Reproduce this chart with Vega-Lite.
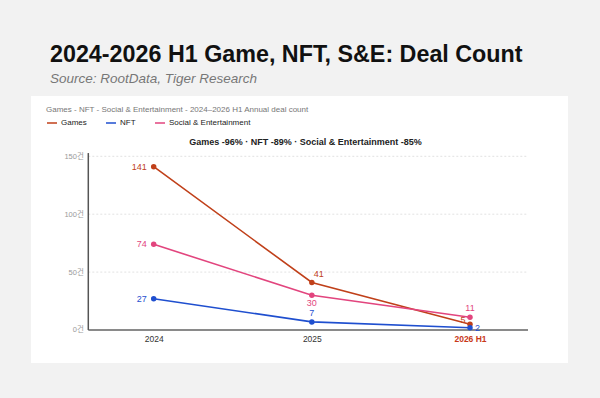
{
  "$schema": "https://vega.github.io/schema/vega-lite/v6.json",
  "width": 537,
  "height": 267,
  "autosize": {"type": "none"},
  "padding": {"left": 31, "top": 96, "right": 32, "bottom": 35},
  "background": "#f2f2f2",
  "view": {"fill": "#ffffff", "stroke": null},
  "config": {"font": "Liberation Sans, Noto Sans CJK KR"},
  "title": {
    "text": "2024-2026 H1 Game, NFT, S&E: Deal Count",
    "subtitle": "Source: RootData, Tiger Research",
    "anchor": "start",
    "frame": "group",
    "dx": 19,
    "offset": 10,
    "fontSize": 23.3,
    "fontWeight": "bold",
    "color": "#111111",
    "subtitleFontSize": 13.5,
    "subtitleFontStyle": "italic",
    "subtitleColor": "#777777",
    "subtitlePadding": 4
  },
  "resolve": {"axis": {"x": "independent", "y": "independent"}},
  "datasets": {
    "deals": [
      {"year": 2024, "series": "Games", "count": 141},
      {"year": 2025, "series": "Games", "count": 41},
      {"year": 2026, "series": "Games", "count": 5},
      {"year": 2024, "series": "NFT", "count": 27},
      {"year": 2025, "series": "NFT", "count": 7},
      {"year": 2026, "series": "NFT", "count": 2},
      {"year": 2024, "series": "Social & Entertainment", "count": 74},
      {"year": 2025, "series": "Social & Entertainment", "count": 30},
      {"year": 2026, "series": "Social & Entertainment", "count": 11}
    ],
    "grid": [{"v": 50}, {"v": 100}, {"v": 150}]
  },
  "layer": [
    {
      "data": {"name": "grid"},
      "mark": {"type": "rule", "color": "#e2e2e2", "strokeWidth": 1, "strokeDash": [2, 2]},
      "encoding": {
        "y": {"field": "v", "type": "quantitative", "axis": null,
              "scale": {"domain": [-28.5, 202.07], "nice": false, "zero": false}},
        "x": {"datum": 2023.5865, "type": "quantitative", "axis": null,
              "scale": {"domain": [2023.2242, 2026.6197], "nice": false, "zero": false}},
        "x2": {"datum": 2026.3667}
      }
    },
    {
      "data": {"values": [{}]},
      "mark": {"type": "rule", "color": "#8a8a8a", "strokeWidth": 2},
      "encoding": {
        "y": {"datum": 0, "type": "quantitative", "axis": null},
        "x": {"datum": 2023.5865, "type": "quantitative", "axis": null},
        "x2": {"datum": 2026.3667}
      }
    },
    {
      "data": {"values": [{}]},
      "mark": {"type": "rule", "color": "#555555", "strokeWidth": 1.5},
      "encoding": {
        "x": {"datum": 2023.5865, "type": "quantitative", "axis": null},
        "y": {"datum": 0, "type": "quantitative", "axis": null},
        "y2": {"datum": 152.8}
      }
    },
    {
      "data": {"name": "deals"},
      "mark": {"type": "line", "strokeWidth": 1.6},
      "encoding": {
        "x": {
          "field": "year", "type": "quantitative",
          "scale": {"domain": [2023.2242, 2026.6197], "nice": false, "zero": false},
          "axis": {
            "values": [2024, 2025, 2026],
            "labelExpr": "datum.value == 2026 ? '2026 H1' : '' + datum.value",
            "domain": false, "ticks": false, "grid": false,
            "offset": -33, "labelPadding": 4,
            "labelFontSize": 8.5, "labelOverlap": false, "labelBound": false, "labelFlush": false,
            "labelColor": {"condition": {"test": "datum.value == 2026", "value": "#c8391a"}, "value": "#333333"},
            "labelFontWeight": {"condition": {"test": "datum.value == 2026", "value": "bold"}, "value": "normal"},
            "title": "Games -96% · NFT -89% · Social & Entertainment -85%",
            "titleX": 274, "titleY": -189,
            "titleAlign": "center", "titleBaseline": "middle", "titleAnchor": null,
            "titleFontSize": 9, "titleFontWeight": "bold", "titleColor": "#222222"
          }
        },
        "y": {
          "field": "count", "type": "quantitative",
          "scale": {"domain": [-28.5, 202.07], "nice": false, "zero": false},
          "axis": {
            "values": [0, 50, 100, 150],
            "labelExpr": "datum.value + '건'",
            "domain": false, "ticks": false, "grid": false,
            "offset": -57.3, "labelPadding": 5,
            "labelFontSize": 7.5, "labelColor": "#9a9a9a",
            "title": null
          }
        },
        "color": {
          "field": "series", "type": "nominal",
          "scale": {
            "domain": ["Games", "NFT", "Social & Entertainment"],
            "range": ["#c0401a", "#1f4fcf", "#e2457e"]
          },
          "legend": {
            "orient": "none", "legendX": 15, "legendY": 10,
            "direction": "horizontal",
            "title": "Games - NFT - Social & Entertainment - 2024–2026 H1 Annual deal count",
            "titleFontSize": 8, "titleFontWeight": "normal", "titleColor": "#777777",
            "titlePadding": 3, "titleLimit": 500,
            "symbolType": "stroke", "symbolSize": 100, "symbolStrokeWidth": 1.5,
            "labelFontSize": 8, "labelColor": "#222222", "labelOffset": 3,
            "columnPadding": 16
          }
        }
      }
    },
    {
      "data": {"name": "deals"},
      "mark": {"type": "point", "filled": true, "size": 30, "opacity": 1},
      "encoding": {
        "x": {"field": "year", "type": "quantitative", "axis": null},
        "y": {"field": "count", "type": "quantitative", "axis": null},
        "color": {"field": "series", "type": "nominal"}
      }
    },
    {
      "data": {"name": "deals"},
      "transform": [{"filter": "datum.year == 2024"}],
      "mark": {"type": "text", "align": "right", "baseline": "middle", "dx": -7, "fontSize": 9},
      "encoding": {
        "x": {"field": "year", "type": "quantitative", "axis": null},
        "y": {"field": "count", "type": "quantitative", "axis": null},
        "text": {"field": "count", "type": "quantitative"},
        "color": {"field": "series", "type": "nominal"}
      }
    },
    {
      "data": {"name": "deals"},
      "transform": [{"filter": "datum.year == 2025 && datum.series == 'Games'"}],
      "mark": {"type": "text", "align": "center", "baseline": "middle", "dx": 7, "dy": -9, "fontSize": 9},
      "encoding": {
        "x": {"field": "year", "type": "quantitative", "axis": null},
        "y": {"field": "count", "type": "quantitative", "axis": null},
        "text": {"field": "count", "type": "quantitative"},
        "color": {"field": "series", "type": "nominal"}
      }
    },
    {
      "data": {"name": "deals"},
      "transform": [{"filter": "(datum.year == 2025 && datum.series == 'NFT') || (datum.year == 2026 && datum.series == 'Social & Entertainment')"}],
      "mark": {"type": "text", "align": "center", "baseline": "middle", "dy": -9, "fontSize": 9},
      "encoding": {
        "x": {"field": "year", "type": "quantitative", "axis": null},
        "y": {"field": "count", "type": "quantitative", "axis": null},
        "text": {"field": "count", "type": "quantitative"},
        "color": {"field": "series", "type": "nominal"}
      }
    },
    {
      "data": {"name": "deals"},
      "transform": [{"filter": "datum.year == 2025 && datum.series == 'Social & Entertainment'"}],
      "mark": {"type": "text", "align": "center", "baseline": "middle", "dy": 8, "fontSize": 9},
      "encoding": {
        "x": {"field": "year", "type": "quantitative", "axis": null},
        "y": {"field": "count", "type": "quantitative", "axis": null},
        "text": {"field": "count", "type": "quantitative"},
        "color": {"field": "series", "type": "nominal"}
      }
    },
    {
      "data": {"name": "deals"},
      "transform": [{"filter": "datum.year == 2026 && datum.series == 'Games'"}],
      "mark": {"type": "text", "align": "center", "baseline": "middle", "dx": -7, "dy": -4, "fontSize": 9},
      "encoding": {
        "x": {"field": "year", "type": "quantitative", "axis": null},
        "y": {"field": "count", "type": "quantitative", "axis": null},
        "text": {"field": "count", "type": "quantitative"},
        "color": {"field": "series", "type": "nominal"}
      }
    },
    {
      "data": {"name": "deals"},
      "transform": [{"filter": "datum.year == 2026 && datum.series == 'NFT'"}],
      "mark": {"type": "text", "align": "left", "baseline": "middle", "dx": 5, "fontSize": 9},
      "encoding": {
        "x": {"field": "year", "type": "quantitative", "axis": null},
        "y": {"field": "count", "type": "quantitative", "axis": null},
        "text": {"field": "count", "type": "quantitative"},
        "color": {"field": "series", "type": "nominal"}
      }
    }
  ]
}
